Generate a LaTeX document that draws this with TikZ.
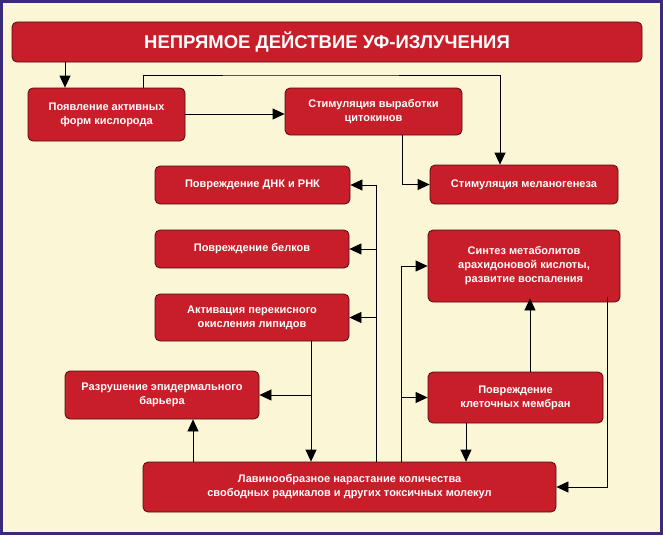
\documentclass[tikz,border=0pt]{standalone}
\usepackage{fontspec}
\setmainfont{Liberation Sans}
\usetikzlibrary{arrows.meta}
\definecolor{bg}{HTML}{FBF6D6}
\definecolor{boxred}{HTML}{C81E2A}
\definecolor{frame}{HTML}{3A2A7A}
\tikzset{
 box/.style={draw=black!60!boxred,line width=0.8pt,fill=boxred,rounded corners=5pt,text=white,font=\bfseries\fontsize{11}{14}\selectfont,align=center,inner sep=0pt},
 ar/.style={-{Triangle[length=12pt,width=11pt]},line width=0.8pt},
 ln/.style={line width=0.8pt}
}
\newcommand{\bx}[6]{\node[box,minimum width=#3-#1,minimum height=#4-#2] (#5) at ({(#1+#3)/2},{(#2+#4)/2}) {#6};}
\begin{document}
\begin{tikzpicture}[x=1pt,y=-1pt]
\fill[frame] (0,0) rectangle (663,535);
\fill[bg] (3,3) rectangle (660,532);
\useasboundingbox (0,0) rectangle (663,535);
\node[box,font=\bfseries\fontsize{18.5}{20}\selectfont,minimum width=630,minimum height=40] (T) at (327,42) {НЕПРЯМОЕ ДЕЙСТВИЕ УФ-ИЗЛУЧЕНИЯ};
\bx{28}{88}{185}{141}{A}{Появление активных\\форм кислорода}
\bx{285}{88}{462}{135}{B}{Стимуляция выработки\\цитокинов}
\bx{430}{165}{618}{204}{C}{Стимуляция меланогенеза}
\bx{155}{166}{350}{204}{D}{Повреждение ДНК и РНК}
\bx{155}{230}{349}{268}{E}{Повреждение белков}
\bx{155}{294}{349}{341}{F}{Активация перекисного\\окисления липидов}
\bx{65}{371}{259}{419}{G}{Разрушение эпидермального\\барьера}
\bx{428}{230}{620}{302}{H}{Синтез метаболитов\\арахидоновой кислоты,\\развитие воспаления}
\bx{428}{372}{603}{423}{I}{Повреждение\\клеточных мембран}
\bx{143}{462}{556}{512}{J}{Лавинообразное нарастание количества\\свободных радикалов и других токсичных молекул}
\coordinate (a1) at (376,462); \coordinate (a2) at (401,462);
\draw[ar] (T.south -| 65,0) -- (A.north -| 65,0);
\draw[ar] (A.east |- 0,114) -- (B.west |- 0,114);
\draw[ar] (A.north -| 143,0) |- (300,75) -| (C.north -| 500,0);
\draw[ar] (B.south -| 402,0) |- (C.west);
\draw[ar] (a1) |- (D.east);
\draw[ar] (E.east -| 376,0) -- (E.east);
\draw[ar] (F.east -| 376,0) -- (F.east);
\draw[ar] (a2) |- (H.west);
\draw[ar] (I.west -| 401,0) -- (I.west);
\draw[ar] (F.south -| 311,0) -- (J.north -| 311,0);
\draw[ar] (G.east -| 311,0) -- (G.east);
\draw[ar] (J.north -| 193,0) -- (G.south -| 193,0);
\draw[ar] (I.north -| 530,0) -- ([yshift=4pt]H.south -| 530,0);
\draw[ar] (I.south -| 466,0) -- (J.north -| 466,0);
\draw[ar] ([yshift=5pt]H.south -| 607,0) |- (J.east);
\end{tikzpicture}
\end{document}
